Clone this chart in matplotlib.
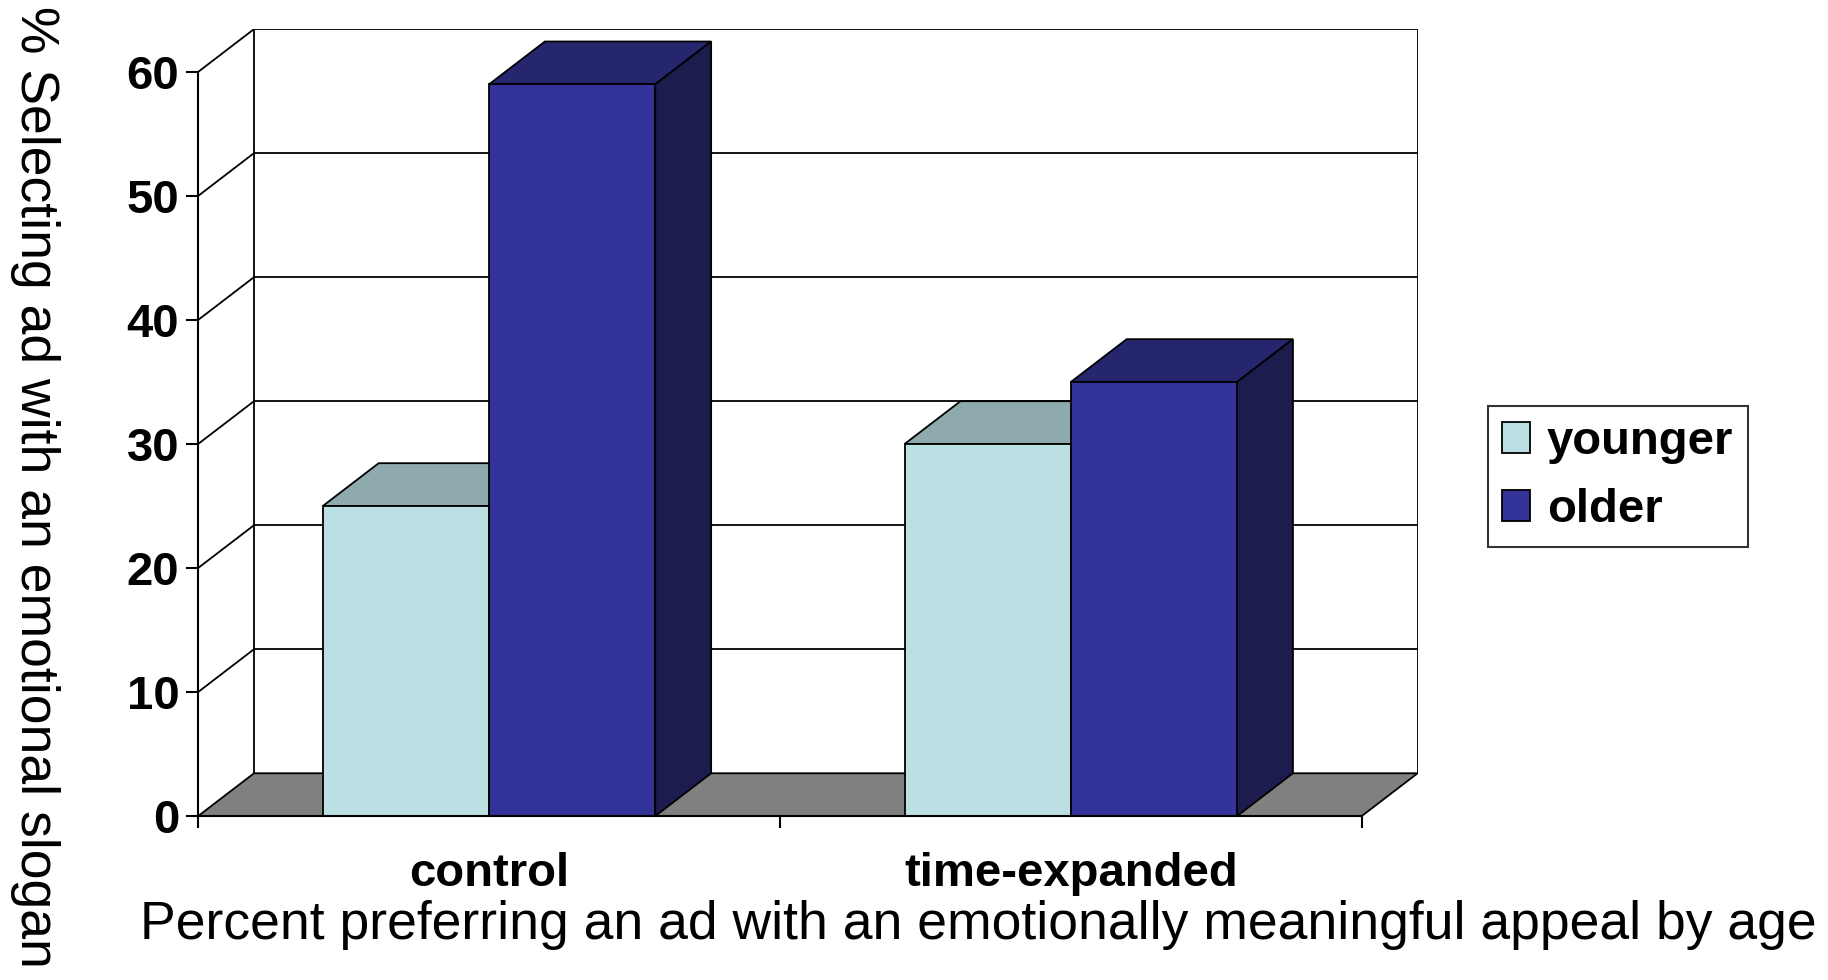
import matplotlib
matplotlib.use('Agg')
import matplotlib.pyplot as plt
from matplotlib.patches import Polygon, Patch

plt.rcParams['font.family'] = ['Liberation Sans', 'DejaVu Sans']

# data
conditions = ['control', 'time-expanded']
groups = ['younger', 'older']
younger = [25, 30]
older = [59, 35]
yticks = [0, 10, 20, 30, 40, 50, 60]

ylabel = '% Selecting ad with an emotional slogan'
caption = 'Percent preferring an ad with an emotionally meaningful appeal by age'

# colours: front, top, side
colors = {
    'younger': ('#BBE0E3', '#8EAAAC', '#7A9496'),
    'older': ('#333399', '#26266F', '#1C1C4E'),
}

# pseudo-3d depth in data units (category units, value units)
DX = 0.096
DY = 3.45
bar_w = 1 / 3.5   # gap width 150%
ymax = 60
ncat = len(conditions)

fig = plt.figure(figsize=(18.28, 9.8), dpi=100)
ax = fig.add_axes([0.1084, 0.1673, 0.6671, 0.8030])
ax.set_xlim(0, ncat + DX)
ax.set_ylim(0, ymax + DY)

lw = 1.3

# floor
floor = Polygon([(0, 0), (ncat, 0), (ncat + DX, DY), (DX, DY)], closed=True,
                facecolor='#808080', edgecolor='black', lw=lw, zorder=1)
ax.add_patch(floor)

# back wall and side wall lines
ax.plot([DX, DX], [DY, ymax + DY], color='black', lw=lw, zorder=0.5)
ax.plot([ncat + DX, ncat + DX], [DY, ymax + DY], color='black', lw=lw, zorder=0.5)
for v in yticks[1:]:
    ax.plot([DX, ncat + DX], [v + DY, v + DY], color='black', lw=lw, zorder=0.5)
    ax.plot([0, DX], [v, v + DY], color='black', lw=lw, zorder=0.5)


def bar3d(x0, h, name, z):
    front, top, side = colors[name]
    x1 = x0 + bar_w
    ax.add_patch(Polygon([(x0, 0), (x1, 0), (x1, h), (x0, h)], closed=True,
                         facecolor=front, edgecolor='black', lw=lw, zorder=z + 0.2))
    ax.add_patch(Polygon([(x0, h), (x1, h), (x1 + DX, h + DY), (x0 + DX, h + DY)],
                         closed=True, facecolor=top, edgecolor='black', lw=lw, zorder=z))
    ax.add_patch(Polygon([(x1, 0), (x1 + DX, DY), (x1 + DX, h + DY), (x1, h)],
                         closed=True, facecolor=side, edgecolor='black', lw=lw, zorder=z))


for i in range(ncat):
    center = i + 0.5
    bar3d(center - bar_w, younger[i], 'younger', 3)
    bar3d(center, older[i], 'older', 4)

# axes styling
for s in ['top', 'right']:
    ax.spines[s].set_visible(False)
ax.spines['left'].set_bounds(0, ymax)
ax.spines['bottom'].set_bounds(0, ncat)
for s in ['left', 'bottom']:
    ax.spines[s].set_linewidth(1.5)
    ax.spines[s].set_zorder(6)

ax.set_yticks(yticks)
ax.set_yticklabels([str(t) for t in yticks], fontsize=34, fontweight='bold')
ax.set_xticks(range(ncat + 1))
ax.set_xticklabels([])
ax.set_xticks([i + 0.5 for i in range(ncat)], minor=True)
ax.set_xticklabels(conditions, minor=True, fontsize=34, fontweight='bold')
ax.tick_params(axis='y', direction='out', length=8.6, width=1.5, pad=5)
ax.tick_params(axis='x', which='major', direction='out', length=8.6, width=1.5)
ax.tick_params(axis='x', which='minor', length=0, pad=26)

fig.text(0.019, 0.503, ylabel, rotation=-90, ha='center', va='center', fontsize=38.5)
fig.text(0.535, 0.056, caption, ha='center', va='center', fontsize=38.5)

handles = [Patch(facecolor=colors[g][0], edgecolor='black', lw=1.3) for g in groups]
leg = fig.legend(handles, groups, loc='upper left', bbox_to_anchor=(0.814, 0.586),
                 borderaxespad=0, fancybox=False, frameon=True, edgecolor='black',
                 prop={'size': 34, 'weight': 'bold'}, handlelength=0.6,
                 handleheight=0.63, handletextpad=0.35, labelspacing=0.52,
                 borderpad=0.3)
leg.get_frame().set_linewidth(1.5)

fig.savefig('out.png', dpi=100, facecolor='white')
